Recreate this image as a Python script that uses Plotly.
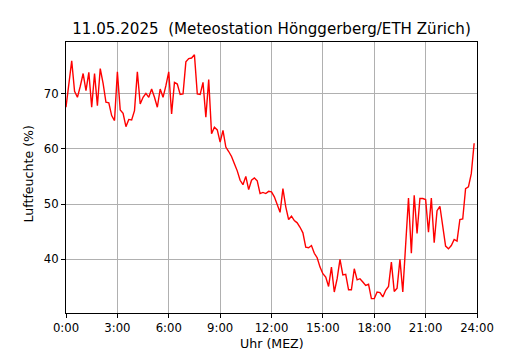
import plotly.graph_objects as go

# 10-minute humidity readings, 11.05.2025, 0:00 ... 23:50
humidity = [
    67.5, 71.8, 75.9, 70.4, 69.3, 71.3, 73.6, 70.5, 73.8, 67.5, 73.6, 67.8,
    74.5, 71.8, 68.4, 68.3, 66.0, 65.1, 73.9, 67.0, 66.4, 64.0, 65.3, 65.2,
    66.9, 73.9, 68.1, 69.3, 70.0, 69.3, 70.8, 69.3, 67.5, 70.8, 69.3, 71.4,
    73.9, 66.3, 72.0, 71.7, 69.8, 69.9, 75.7, 76.3, 76.4, 77.0, 69.9, 69.8,
    72.0, 65.7, 72.5, 62.7, 63.9, 63.4, 61.2, 63.3, 60.3, 59.5, 58.6, 57.3,
    56.0, 54.3, 53.5, 55.0, 52.6, 54.3, 54.7, 54.2, 51.9, 52.1, 51.9, 52.3,
    52.2, 51.3, 50.0, 48.5, 52.8, 49.5, 47.2, 47.8, 47.0, 46.6, 45.8, 44.8,
    42.2, 42.1, 42.5, 41.1, 40.3, 38.6, 37.4, 36.8, 35.1, 38.6, 34.1, 36.5,
    40.0, 37.2, 37.3, 34.5, 34.5, 38.3, 36.3, 36.5, 35.9, 35.3, 35.5, 32.9,
    32.9, 34.1, 34.0, 33.2, 34.4, 35.1, 39.5, 34.2, 34.8, 40.0, 34.1, 42.5,
    51.1, 41.1, 51.6, 44.7, 51.0, 51.0, 50.8, 44.9, 51.1, 43.0, 48.8, 49.6,
    45.8, 42.4, 41.9, 42.5, 43.6, 43.3, 47.2, 47.3, 52.8, 53.1, 55.5, 61.0,
]
step_minutes = 10
hours = [i * step_minutes / 60 for i in range(len(humidity))]

x_tick_vals = [0, 3, 6, 9, 12, 15, 18, 21, 24]
x_tick_text = ["0:00", "3:00", "6:00", "9:00", "12:00", "15:00", "18:00", "21:00", "24:00"]
y_tick_vals = [40, 50, 60, 70]

title_text = "11.05.2025  (Meteostation Hönggerberg/ETH Zürich)"
x_label = "Uhr (MEZ)"
y_label = "Luftfeuchte (%)"

FONT = "DejaVu Sans"
# page body has an 8 px margin, so the figure is made 8 px smaller on each side
W, H = 522, 342

fig = go.Figure()
fig.add_trace(go.Scatter(
    x=hours, y=humidity, mode="lines",
    line=dict(color="red", width=1.4),
    hoverinfo="skip", showlegend=False,
))

axis_common = dict(
    showline=True, linecolor="black", linewidth=1, mirror=True,
    ticks="outside", ticklen=4, tickwidth=1, tickcolor="black",
    showgrid=True, gridcolor="#b0b0b0", gridwidth=1,
    zeroline=False,
    tickfont=dict(family=FONT, size=11.7, color="black"),
)

fig.update_layout(
    width=W, height=H,
    margin=dict(l=58, r=53, t=34, b=37, autoexpand=False),
    paper_bgcolor="white", plot_bgcolor="white",
    font=dict(family=FONT, color="black"),
    title=dict(text=title_text, x=0.5, xref="paper", y=1 - 21 / H,
               yref="container", xanchor="center", yanchor="middle",
               font=dict(family=FONT, size=15.1, color="black")),
    xaxis=dict(range=[0, 24], tickvals=x_tick_vals, ticktext=x_tick_text, **axis_common),
    yaxis=dict(range=[30.3, 79.3], tickvals=y_tick_vals, **axis_common),
    annotations=[
        dict(text=x_label, x=0.5, y=0, xref="paper", yref="paper",
             xanchor="center", yanchor="middle", yshift=-30, showarrow=False,
             font=dict(family=FONT, size=12.6, color="black")),
        dict(text=y_label, x=0, y=0.5, xref="paper", yref="paper",
             xanchor="center", yanchor="middle", xshift=-38, yshift=3, textangle=-90,
             showarrow=False, font=dict(family=FONT, size=12.6, color="black")),
    ],
)

fig.write_html("out.html")
